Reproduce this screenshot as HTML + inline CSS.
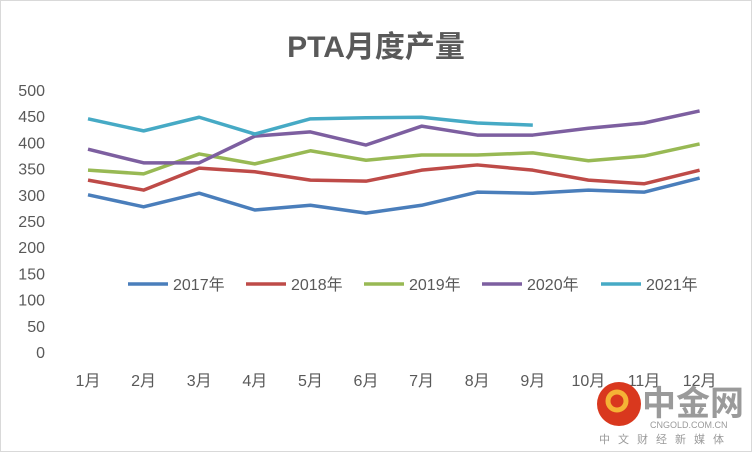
<!DOCTYPE html>
<html><head><meta charset="utf-8"><style>
body{margin:0;background:#fff;}
#c{position:relative;width:752px;height:452px;border:1px solid #d9d9d9;box-sizing:border-box;font-family:"Liberation Sans","Noto Sans CJK SC",sans-serif;}
</style></head><body>
<div id="c">
<svg id="s" width="750" height="450"></svg>
</div>
<script>
const months=["1月","2月","3月","4月","5月","6月","7月","8月","9月","10月","11月","12月"];
const yTicks=[0,50,100,150,200,250,300,350,400,450,500];
const seriesNames=["2017年","2018年","2019年","2020年","2021年"];
const colors=["#4a7ebb","#be4b48","#98b954","#7d5fa0","#46aac5"];
const s2017=[300,277,303,271,280,265,280,305,303,309,305,332];
const s2018=[328,309,351,344,328,326,347,357,347,328,321,347];
const s2019=[347,340,378,359,384,366,376,376,380,365,374,397];
const s2020=[387,361,361,412,420,395,431,414,414,427,437,460];
const s2021=[445,422,448,416,445,447,448,437,433];
const allSeries=[s2017,s2018,s2019,s2020,s2021];
const svg=document.getElementById('s');
const NS="http://www.w3.org/2000/svg";
function X(i){return 87+i*55.6;}
function Y(v){return 351-v*0.524;}
function mk(t,a,p){const e=document.createElementNS(NS,t);for(const k in a)e.setAttribute(k,a[k]);(p||svg).appendChild(e);return e;}
const title=mk('text',{x:375,y:56,'text-anchor':'middle','font-size':30,'font-weight':'bold',fill:'#595959'});
title.textContent='PTA月度产量';


yTicks.forEach(v=>{const t=mk('text',{x:44,y:Y(v)+6,'text-anchor':'end','font-size':16,fill:'#595959'});t.textContent=v;

});
months.forEach((m,i)=>{const t=mk('text',{x:X(i),y:385,'text-anchor':'middle','font-size':16,fill:'#595959'});t.textContent=m;

});
allSeries.forEach((d,k)=>{const p=mk('polyline',{points:d.map((v,i)=>X(i)+','+Y(v)).join(' '),fill:'none',stroke:colors[k],'stroke-width':3.5,'stroke-linejoin':'round'});

});
const lx=[127,245,363,481,600];
seriesNames.forEach((n,k)=>{const g=mk('g',{});


mk('line',{x1:lx[k],y1:283,x2:lx[k]+40,y2:283,stroke:colors[k],'stroke-width':3.5},g);
const t=mk('text',{x:lx[k]+45,y:289,'font-size':16,fill:'#595959'},g);t.textContent=n;});
// watermark
const w=mk('g',{});


mk('circle',{cx:618,cy:403,r:22,fill:'#d9381e'},w);
mk('circle',{cx:616,cy:400,r:9,fill:'none',stroke:'#f5b335','stroke-width':5},w);
const w1=mk('text',{x:641,y:414,'font-size':34,'font-weight':'bold',fill:'#9a9a9a'},w);w1.textContent='中金网';
const w2=mk('text',{x:649,y:427,'font-size':9,fill:'#9a9a9a'},w);w2.textContent='CNGOLD.COM.CN';
const w3=mk('text',{x:598,y:442,'font-size':11,fill:'#9a9a9a','letter-spacing':'8'},w);w3.textContent='中文财经新媒体';
</script>
</body></html>
